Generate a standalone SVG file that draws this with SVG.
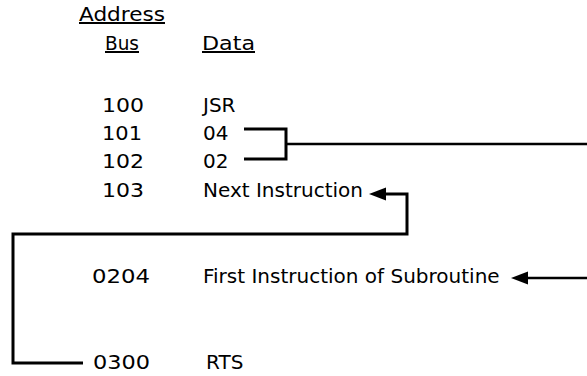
<svg xmlns="http://www.w3.org/2000/svg" width="587" height="376" viewBox="0 0 587 376">
<style>
text{font-family:"DejaVu Sans","Liberation Sans",sans-serif;font-size:20px;fill:#000}
.hd{text-decoration:underline}
.ln{fill:none;stroke:#000;stroke-width:3;stroke-linejoin:miter}
.thin{stroke-width:2.5}
</style>
<defs>
<marker id="ah" markerUnits="userSpaceOnUse" markerWidth="18" markerHeight="14" refX="8" refY="7" orient="auto">
<path d="M0,0.5 L17,7 L0,13.5 z" fill="#000"/>
</marker>
</defs>
<rect width="587" height="376" fill="#fff"/>
<g id="headers">
<text class="hd" x="79" y="21" textLength="86" lengthAdjust="spacingAndGlyphs">Address</text>
<text class="hd" x="105" y="50" textLength="34" lengthAdjust="spacingAndGlyphs">Bus</text>
<text class="hd" x="202" y="50" textLength="53" lengthAdjust="spacingAndGlyphs">Data</text>
</g>
<g id="row100"><text x="102" y="112" textLength="42" lengthAdjust="spacingAndGlyphs">100</text><text x="203" y="112">JSR</text></g>
<g id="row101"><text x="102" y="140" textLength="40" lengthAdjust="spacingAndGlyphs">101</text><text x="203" y="140">04</text></g>
<g id="row102"><text x="102" y="168" textLength="42" lengthAdjust="spacingAndGlyphs">102</text><text x="203" y="168">02</text></g>
<g id="row103"><text x="102" y="197" textLength="42" lengthAdjust="spacingAndGlyphs">103</text><text x="203" y="197">Next Instruction</text></g>
<g id="row0204"><text x="92" y="283" textLength="58" lengthAdjust="spacingAndGlyphs">0204</text><text x="203" y="283">First Instruction of Subroutine</text></g>
<g id="row0300"><text x="93" y="369" textLength="57" lengthAdjust="spacingAndGlyphs">0300</text><text x="206" y="369">RTS</text></g>
<g id="connectors">
<path class="ln" d="M244,129 H286 V159 H244"/>
<path class="ln thin" d="M286,144 H587"/>
<path class="ln" d="M83,363 H13 V234 H407 V194 H378" marker-end="url(#ah)"/>
<path class="ln thin" d="M587,278 H520" marker-end="url(#ah)"/>
</g>
</svg>
